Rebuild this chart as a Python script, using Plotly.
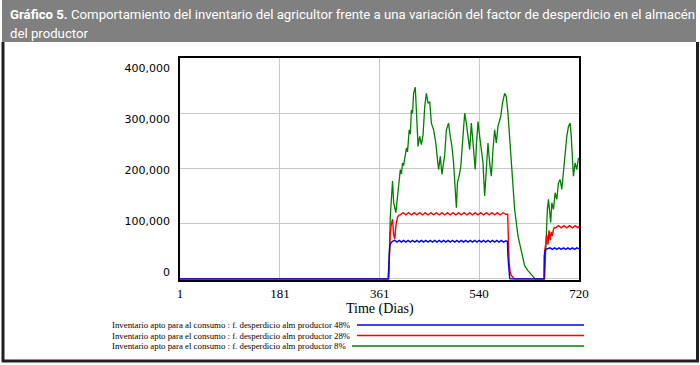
import plotly.graph_objects as go

# ---------------- data ----------------
x_ticks = [1, 181, 361, 540, 720]
y_ticks = [0, 100000, 200000, 300000, 400000]
y_tick_labels = ["0", "100,000", "200,000", "300,000", "400,000"]

series_names = [
    "Inventario apto para al consumo : f. desperdicio alm productor 48%",
    "Inventario apto para el consumo : f. desperdicio alm productor 28%",
    "Inventario apto para el consumo : f. desperdicio alm productor 8%",
]

blue_days = [1, 376, 377, 378, 379, 381, 384,
             388, 392, 396, 400, 404, 408, 412, 416, 420, 424,
             428, 432, 436, 440, 444, 448, 452, 456, 460, 464,
             468, 472, 476, 480, 484, 488, 492, 496, 500, 504,
             508, 512, 516, 520, 524, 528, 532, 536, 540, 544,
             548, 552, 556, 560, 564, 568, 572, 576, 580, 584, 588,
             591, 592, 593, 594, 595, 596,
             657, 657.5, 659, 661,
             664, 668, 672, 676, 680, 684, 688, 692, 696, 700, 704, 708, 712, 716, 720]
blue_vals = [0, 0, 18000, 45000, 60000, 65000, 68000,
             69800, 66600, 69800, 66600, 69800, 66600, 69800, 66600, 69800, 66600,
             69800, 66600, 69800, 66600, 69800, 66600, 69800, 66600, 69800, 66600,
             69800, 66600, 69800, 66600, 69800, 66600, 69800, 66600, 69800, 66600,
             69800, 66600, 69800, 66600, 69800, 66600, 69800, 66600, 69800, 66600,
             69800, 66600, 69800, 66600, 69800, 66600, 69800, 66600, 69800, 66600, 69000,
             68000, 40000, 20000, 8000, 2000, 0,
             0, 42000, 51000, 54000,
             55000, 56200, 53600, 56200, 53600, 56200, 53600, 56200, 53600, 56200, 53600, 56200, 53600, 56200, 54500]

red_days = [1, 377, 378, 379, 380, 382, 384, 386, 388, 390, 393, 396,
            398, 403, 408, 413, 418, 423, 428, 433, 438, 443,
            448, 453, 458, 463, 468, 473, 478, 483, 488, 493,
            498, 503, 508, 513, 518, 523, 528, 533, 538, 543,
            548, 553, 558, 563, 568, 573, 578, 583, 588,
            591.5, 592.5, 594, 596, 598, 601, 603,
            657.5, 658, 660, 662, 664, 666, 668, 670, 672, 674, 676,
            678, 683, 688, 693, 698, 703, 708, 713, 718, 720]
red_vals = [0, 0, 30000, 55000, 84000, 100000, 108000, 80000, 72000, 96000, 112000, 116000,
            116000, 119800, 115800, 119800, 115800, 119800, 115800, 119800, 115800, 119800,
            115800, 119800, 115800, 119800, 115800, 119800, 115800, 119800, 115800, 119800,
            115800, 119800, 115800, 119800, 115800, 119800, 115800, 119800, 115800, 119800,
            115800, 119800, 115800, 119800, 115800, 119800, 115800, 119800, 117000,
            117000, 78000, 30000, 12000, 6000, 3000, 0,
            0, 50000, 62000, 80000, 62000, 88000, 70000, 85000, 78000, 90000, 93000,
            92500, 96500, 92500, 96500, 92500, 96500, 92500, 96500, 92500, 95000]

green_days = [1, 377, 380, 382, 384, 386, 388, 390, 392, 394, 396, 398, 400, 402, 404,
              406, 409, 411, 414, 416, 418, 420, 422, 425, 427, 430, 433, 436, 439, 442,
              445, 448, 451, 454, 458, 462, 465, 467, 470, 473, 475, 478, 481, 485, 488,
              491, 494, 498, 499, 501, 504, 507, 510, 514, 517, 520, 523, 526, 529, 533,
              535, 538, 541, 544, 547, 550, 553, 556, 559, 562, 565, 568, 571, 574, 579,
              582, 586, 589, 592, 595, 600, 604, 610, 616, 622, 628, 635, 641, 658, 660,
              663, 665, 667, 669, 671, 674, 677, 680, 683, 686, 689, 692, 695, 698, 701,
              704, 706, 708, 710, 713, 716, 719, 720]
green_vals = [0, 0, 114000, 150000, 177000, 138000, 128000, 120000, 140000, 162000, 175000, 198000, 190000, 210000, 205000,
              222000, 237000, 230000, 270000, 262000, 306000, 300000, 336000, 347000, 312000, 240000, 258000, 243000, 261000, 312000,
              336000, 318000, 321000, 282000, 270000, 246000, 216000, 198000, 222000, 189000, 204000, 225000, 270000, 282000, 258000,
              240000, 210000, 156000, 129000, 174000, 186000, 204000, 246000, 300000, 282000, 258000, 234000, 282000, 240000, 198000,
              240000, 285000, 258000, 234000, 210000, 150000, 198000, 246000, 210000, 186000, 234000, 270000, 246000, 276000, 294000,
              318000, 336000, 330000, 300000, 252000, 180000, 126000, 78000, 48000, 24000, 15000, 6000, 0, 0, 66000,
              126000, 144000, 120000, 102000, 138000, 126000, 156000, 144000, 174000, 180000, 162000, 198000, 222000, 258000, 276000,
              282000, 258000, 222000, 186000, 210000, 198000, 219000, 216000]

colors = ["#0000ff", "#ff0000", "#008000"]

# ---------------- layout helpers ----------------
W, H = 700, 365
L, R, T, B = 180, 121, 58, 85
PW, PH = W - L - R, H - T - B


def px(x):
    return (x - L) / PW


def py(y):
    return (H - B - y) / PH


fig = go.Figure()
# draw green first, then red, then blue on top
fig.add_trace(go.Scatter(x=green_days, y=green_vals, mode="lines", name=series_names[2],
                         line=dict(color=colors[2], width=1.3), showlegend=False))
fig.add_trace(go.Scatter(x=red_days, y=red_vals, mode="lines", name=series_names[1],
                         line=dict(color=colors[1], width=1.4), showlegend=False))
fig.add_trace(go.Scatter(x=blue_days, y=blue_vals, mode="lines", name=series_names[0],
                         line=dict(color=colors[0], width=1.4), showlegend=False))
# helper trace so that the label axis is drawn
fig.add_trace(go.Scatter(x=[None], y=[None], yaxis="y2", showlegend=False, hoverinfo="skip"))

shapes = []
# title bar
shapes.append(dict(type="rect", xref="paper", yref="paper", x0=px(2), x1=px(696), y0=py(42), y1=py(0),
                   fillcolor="#808080", line=dict(width=0), layer="below"))
# outer frame lines
frame_col = "#231f20"
shapes.append(dict(type="line", xref="paper", yref="paper", x0=px(3), x1=px(3), y0=py(42), y1=py(362),
                   line=dict(color=frame_col, width=3)))
shapes.append(dict(type="line", xref="paper", yref="paper", x0=px(697.5), x1=px(697.5), y0=py(42), y1=py(362),
                   line=dict(color=frame_col, width=3)))
shapes.append(dict(type="line", xref="paper", yref="paper", x0=px(2), x1=px(699), y0=py(361), y1=py(361),
                   line=dict(color=frame_col, width=3)))

title_font = dict(family="Roboto, sans-serif", size=13.2, color="white")
annotations = []
annotations.append(dict(xref="paper", yref="paper", x=px(8), y=py(14), xanchor="left", yanchor="middle",
                        showarrow=False,
                        text="<b>Gráfico 5.</b> Comportamiento del inventario del agricultor frente a una variación del factor de desperdicio en el almacén",
                        font=title_font))
annotations.append(dict(xref="paper", yref="paper", x=px(8), y=py(33), xanchor="left", yanchor="middle",
                        showarrow=False, text="del productor", font=title_font))
# x-axis title
annotations.append(dict(xref="paper", yref="paper", x=px(380), y=py(309), xanchor="center", yanchor="middle",
                        showarrow=False, text="Time (Dias)",
                        font=dict(family="Liberation Serif, serif", size=14, color="black")))

# legend (text left, line sample right)
leg_y = [325, 335.5, 346]
leg_x0 = [357, 357, 352]
for i in range(3):
    annotations.append(dict(xref="paper", yref="paper", x=px(110), y=py(leg_y[i]), xanchor="left",
                            yanchor="middle", showarrow=False, text=series_names[i],
                            font=dict(family="Liberation Serif, serif", size=8.8, color="black")))
    shapes.append(dict(type="line", xref="paper", yref="paper", x0=px(leg_x0[i]), x1=px(584),
                       y0=py(leg_y[i]), y1=py(leg_y[i]), line=dict(color=colors[i], width=1.5)))

fig.update_layout(
    width=W, height=H,
    margin=dict(l=L, r=R, t=T, b=B, pad=0),
    paper_bgcolor="white", plot_bgcolor="white",
    showlegend=False,
    shapes=shapes,
    annotations=annotations,
    xaxis=dict(range=[1, 720], tickvals=x_ticks, ticktext=[str(v) for v in x_ticks],
               showgrid=True, gridcolor="#c8c8c8", gridwidth=1, zeroline=False,
               showline=True, linecolor="black", linewidth=2, mirror=True, ticks="",
               ticklabelstandoff=0,
               tickfont=dict(family="Liberation Serif, serif", size=13, color="black")),
    yaxis=dict(range=[-2000, 400000], tickvals=y_ticks, showticklabels=False,
               showgrid=True, gridcolor="#c8c8c8", gridwidth=1, zeroline=False,
               showline=True, linecolor="black", linewidth=2, mirror=True, ticks=""),
    yaxis2=dict(overlaying="y", side="left", range=[-16300, 419000], tickvals=y_ticks,
                ticktext=y_tick_labels, showgrid=False, zeroline=False, showline=False, ticks="",
                ticklabelstandoff=9,
                tickfont=dict(family="DejaVu Sans, sans-serif", size=11, color="black")),
)

fig.write_html("out.html", config={"displayModeBar": False},
               post_script="document.body.style.margin='0';")
